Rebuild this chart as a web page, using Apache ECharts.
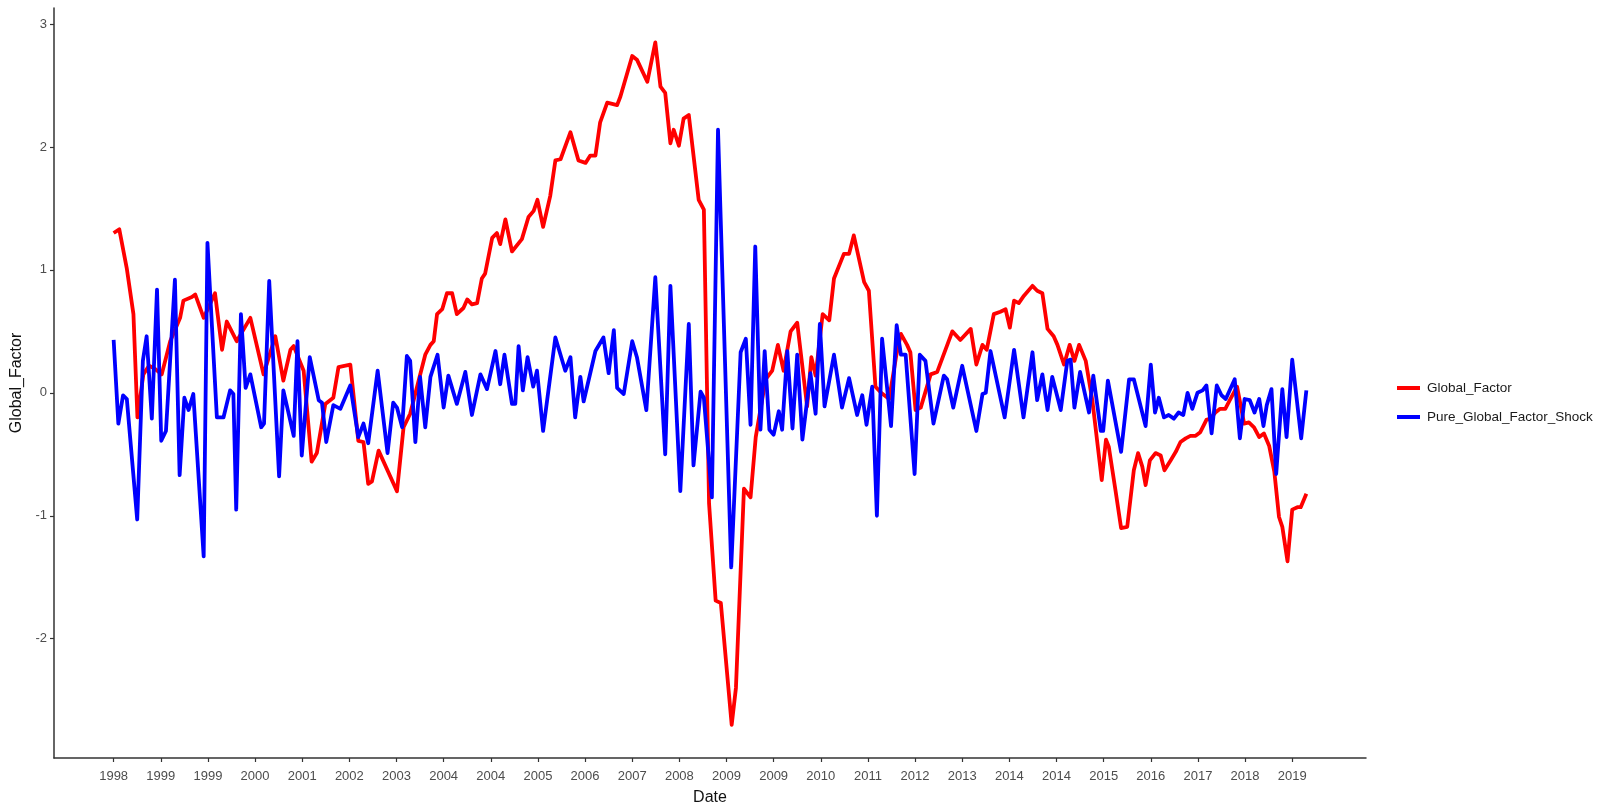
<!DOCTYPE html>
<html>
<head>
<meta charset="utf-8">
<script src="https://cdn.jsdelivr.net/npm/echarts@6/dist/echarts.min.js"></script>
<style>
html,body{margin:0;padding:0;background:#fff;}
#chart{width:1608px;height:811px;}
</style>
</head>
<body>
<div id="chart"></div>
<script>
// Month index (0 = first observation) of each x-axis tick, and its printed label
const tickMonths = [0,10,20,30,40,50,60,70,80,90,100,110,120,130,140,150,160,170,180,190,200,210,220,230,240,250];
const tickLabels = ["1998","1999","1999","2000","2001","2002","2003","2004","2004","2005","2006","2007","2008","2009","2009","2010","2011","2012","2013","2014","2014","2015","2016","2017","2018","2019"];
const yTicks = [-2,-1,0,1,2,3];
const lastMonth = 253;

// Global_Factor: [month index, value]
const globalFactor = [
[0,1.30],[1.2,1.33],[2.8,1.01],[4.2,0.64],[5.05,-0.20],[6.3,0.15],[7.5,0.22],[8.6,0.20],[10.2,0.15],[12,0.42],[14.1,0.61],[14.8,0.75],[16.6,0.78],[17.3,0.80],[19.1,0.61],[21.5,0.81],[23,0.35],[24,0.58],[26.1,0.42],[29,0.61],[31.8,0.15],[34.3,0.46],[36,0.10],[37.5,0.35],[38.2,0.38],[40.3,0.18],[42,-0.56],[43.1,-0.49],[44.9,-0.09],[46.6,-0.04],[47.7,0.21],[50.2,0.23],[51.9,-0.39],[53,-0.40],[54,-0.74],[54.8,-0.72],[56.2,-0.47],[60.1,-0.80],[61.5,-0.28],[62.9,-0.17],[66.1,0.31],[67.2,0.39],[67.9,0.42],[68.6,0.64],[69.7,0.68],[70.7,0.81],[71.8,0.81],[72.8,0.64],[74.2,0.69],[75,0.76],[76,0.72],[77.1,0.73],[78.1,0.93],[78.8,0.97],[80.3,1.26],[81.3,1.30],[82,1.21],[83.1,1.41],[84.5,1.15],[86.6,1.25],[88,1.43],[89.1,1.48],[89.9,1.57],[91.1,1.35],[92.6,1.60],[93.7,1.89],[94.8,1.90],[96.9,2.12],[98.6,1.89],[100.1,1.87],[101.1,1.93],[102.2,1.93],[103.2,2.20],[104.7,2.36],[106.8,2.34],[107.5,2.41],[110,2.74],[111,2.71],[113.2,2.53],[114.9,2.85],[116,2.49],[117,2.44],[118.1,2.03],[118.8,2.14],[119.9,2.01],[120.9,2.23],[122,2.26],[124.1,1.57],[125.2,1.49],[126.3,-0.90],[127.7,-1.69],[128.8,-1.71],[131.1,-2.70],[132,-2.40],[133.7,-0.78],[135.1,-0.85],[136.2,-0.36],[138.3,0.11],[139.7,0.18],[140.9,0.39],[142.1,0.18],[143.6,0.50],[145,0.57],[147.1,-0.11],[148,0.29],[148.9,0.14],[150.4,0.64],[151.8,0.59],[152.8,0.93],[154.9,1.13],[156,1.13],[157,1.28],[159.2,0.90],[160.2,0.83],[161.6,0.05],[162.8,0.00],[164.5,-0.05],[166,0.30],[167,0.48],[168.3,0.39],[169,0.33],[170.1,-0.14],[171.2,-0.12],[173.3,0.15],[174.7,0.17],[177.9,0.50],[179.6,0.43],[181.8,0.52],[183,0.23],[184.3,0.39],[185.2,0.35],[186.7,0.64],[188.1,0.66],[189.2,0.68],[190.1,0.53],[191,0.75],[192,0.73],[193.1,0.79],[194.9,0.87],[195.9,0.83],[197,0.81],[198.1,0.52],[199.4,0.46],[200.2,0.39],[201.6,0.23],[202.8,0.39],[203.8,0.26],[204.8,0.39],[206.2,0.26],[207.6,-0.06],[209.6,-0.71],[210.5,-0.38],[211.1,-0.44],[212.5,-0.79],[213.7,-1.10],[215,-1.09],[216.4,-0.63],[217.3,-0.49],[218.2,-0.60],[218.9,-0.75],[219.8,-0.55],[221,-0.49],[222.1,-0.51],[222.9,-0.63],[224.2,-0.55],[225.3,-0.48],[226.3,-0.40],[227.4,-0.37],[228.4,-0.35],[229.5,-0.35],[230.5,-0.32],[231.8,-0.22],[232.6,-0.21],[233.7,-0.16],[234.7,-0.13],[235.8,-0.13],[236.9,-0.05],[238.3,0.05],[239.8,-0.25],[240.8,-0.24],[241.9,-0.28],[243,-0.36],[244,-0.33],[245.1,-0.43],[246.2,-0.64],[247.2,-1.01],[247.9,-1.09],[249,-1.37],[250,-0.95],[251.1,-0.93],[251.8,-0.93],[253,-0.82]
];

// Pure_Global_Factor_Shock: [month index, value]
const pureShock = [
[0,0.43],[1,-0.25],[2,-0.02],[2.8,-0.05],[5,-1.03],[6.2,0.26],[7,0.46],[8.1,-0.21],[9.2,0.84],[10.1,-0.39],[11.1,-0.31],[13,0.92],[14,-0.67],[15,-0.04],[15.9,-0.14],[16.9,-0.01],[19.1,-1.33],[19.9,1.22],[21.9,-0.20],[23.3,-0.20],[24.7,0.02],[25.4,-0.01],[26,-0.95],[27,0.64],[28,0.04],[29,0.15],[31.3,-0.28],[31.9,-0.25],[33,0.91],[35.1,-0.68],[36,0.02],[38.2,-0.35],[39,0.42],[39.9,-0.51],[41.6,0.29],[43.5,-0.06],[44.2,-0.08],[45.1,-0.40],[46.6,-0.10],[48.1,-0.13],[50.2,0.06],[51.9,-0.36],[53,-0.25],[54,-0.41],[56,0.18],[58.1,-0.49],[59.3,-0.08],[60.1,-0.12],[61.2,-0.28],[62.2,0.30],[62.9,0.26],[64,-0.40],[65,0.13],[66.1,-0.28],[67.2,0.13],[68.7,0.31],[70,-0.12],[71,0.14],[72.8,-0.09],[74.6,0.17],[76,-0.18],[77.8,0.15],[79.2,0.03],[81,0.34],[82,0.07],[82.9,0.31],[84.5,-0.09],[85.2,-0.09],[85.9,0.38],[86.8,0.02],[87.8,0.29],[89,0.05],[89.8,0.18],[91.1,-0.31],[93.7,0.45],[95.8,0.18],[96.9,0.29],[97.9,-0.20],[99,0.13],[99.7,-0.07],[102.2,0.34],[103.9,0.45],[105,0.16],[106.1,0.51],[106.8,0.04],[108.2,-0.01],[110,0.42],[111,0.29],[113,-0.14],[114.9,0.94],[117,-0.50],[118.1,0.87],[120.2,-0.80],[122,0.56],[123,-0.59],[124.5,0.01],[125.2,-0.04],[126.9,-0.85],[128.2,2.14],[131,-1.42],[133,0.33],[134.1,0.44],[135.1,-0.26],[136.1,1.19],[137.2,-0.30],[138.1,0.34],[139.1,-0.30],[140,-0.34],[141.1,-0.15],[141.8,-0.30],[142.9,0.34],[144,-0.29],[145,0.31],[146.1,-0.38],[147.8,0.16],[148.9,-0.17],[149.8,0.56],[150.8,-0.11],[152.8,0.31],[154.5,-0.12],[156,0.12],[157.7,-0.18],[158.8,-0.02],[159.7,-0.26],[160.9,0.05],[161.9,-1.00],[163,0.44],[164.9,-0.27],[166.1,0.55],[167,0.31],[168,0.31],[169.9,-0.66],[171,0.31],[172.2,0.26],[173.9,-0.25],[176.1,0.14],[176.8,0.11],[178.1,-0.12],[180,0.22],[183,-0.31],[184.3,-0.01],[185,0.00],[186,0.34],[189,-0.20],[191,0.35],[193,-0.20],[194.9,0.33],[195.9,-0.06],[197,0.15],[198.1,-0.14],[199.1,0.13],[200.9,-0.14],[202.3,0.26],[203,0.27],[203.8,-0.12],[205,0.17],[206.9,-0.16],[207.8,0.14],[209.4,-0.31],[209.9,-0.31],[210.9,0.10],[213.7,-0.48],[215.4,0.11],[216.4,0.11],[218.9,-0.27],[220,0.23],[220.9,-0.16],[221.7,-0.04],[222.8,-0.20],[223.8,-0.18],[224.9,-0.21],[225.9,-0.16],[226.9,-0.18],[227.8,0.00],[228.8,-0.13],[229.9,0.00],[231,0.02],[231.8,0.06],[232.9,-0.33],[234,0.06],[235,-0.02],[235.9,-0.05],[237.8,0.11],[238.9,-0.37],[239.9,-0.05],[241,-0.06],[242,-0.16],[243,-0.05],[243.9,-0.27],[244.6,-0.10],[245.6,0.03],[246.6,-0.66],[247.9,0.03],[248.8,-0.36],[250,0.27],[251.9,-0.37],[253,0.02]
];

const chart = echarts.init(document.getElementById('chart'), null, {renderer:'canvas'});
const font = '"Liberation Sans", Arial, Helvetica, sans-serif';
const axisColor = '#333333';
const pad = lastMonth * 0.05;

chart.setOption({
  animation: false,
  backgroundColor: '#ffffff',
  textStyle: {fontFamily: font},
  grid: {left: 54, right: 242, top: 8, bottom: 47, containLabel: false},
  legend: {
    orient: 'vertical',
    left: 1392,
    top: 376,
    icon: 'rect',
    itemWidth: 23,
    itemHeight: 4,
    itemGap: 15,
    textStyle: {fontFamily: font, fontSize: 13.5, color: '#1a1a1a', padding: [0,0,0,2]},
    data: ['Global_Factor', 'Pure_Global_Factor_Shock']
  },
  xAxis: {
    type: 'value',
    min: -pad,
    max: lastMonth + pad,
    name: 'Date',
    nameLocation: 'middle',
    nameGap: 32,
    nameTextStyle: {fontFamily: font, fontSize: 16, color: '#111'},
    axisLine: {show: true, onZero: false, lineStyle: {color: axisColor, width: 1.5}},
    axisTick: {show: true, length: 4, lineStyle: {color: axisColor, width: 1.2}, customValues: tickMonths},
    axisLabel: {
      customValues: tickMonths,
      margin: 12,
      fontFamily: font, fontSize: 13, color: '#4d4d4d',
      formatter: v => tickLabels[tickMonths.indexOf(Math.round(v))] || ''
    },
    splitLine: {show: false}
  },
  yAxis: {
    type: 'value',
    min: -2.97,
    max: 3.13,
    name: 'Global_Factor',
    nameLocation: 'middle',
    nameGap: 27,
    nameTextStyle: {fontFamily: font, fontSize: 16, color: '#111'},
    axisLine: {show: true, onZero: false, lineStyle: {color: axisColor, width: 1.5}},
    axisTick: {show: true, length: 4, lineStyle: {color: axisColor, width: 1.2}, customValues: yTicks},
    axisLabel: {customValues: yTicks, margin: 7, fontFamily: font, fontSize: 13, color: '#4d4d4d'},
    splitLine: {show: false}
  },
  series: [
    {
      name: 'Global_Factor', type: 'line', data: globalFactor,
      symbol: 'none', showSymbol: false, color: '#ff0000',
      lineStyle: {width: 3.8, color: '#ff0000', join: 'round'}, z: 2
    },
    {
      name: 'Pure_Global_Factor_Shock', type: 'line', data: pureShock,
      symbol: 'none', showSymbol: false, color: '#0000ff',
      lineStyle: {width: 3.8, color: '#0000ff', join: 'round'}, z: 3
    }
  ]
});
</script>
</body>
</html>
